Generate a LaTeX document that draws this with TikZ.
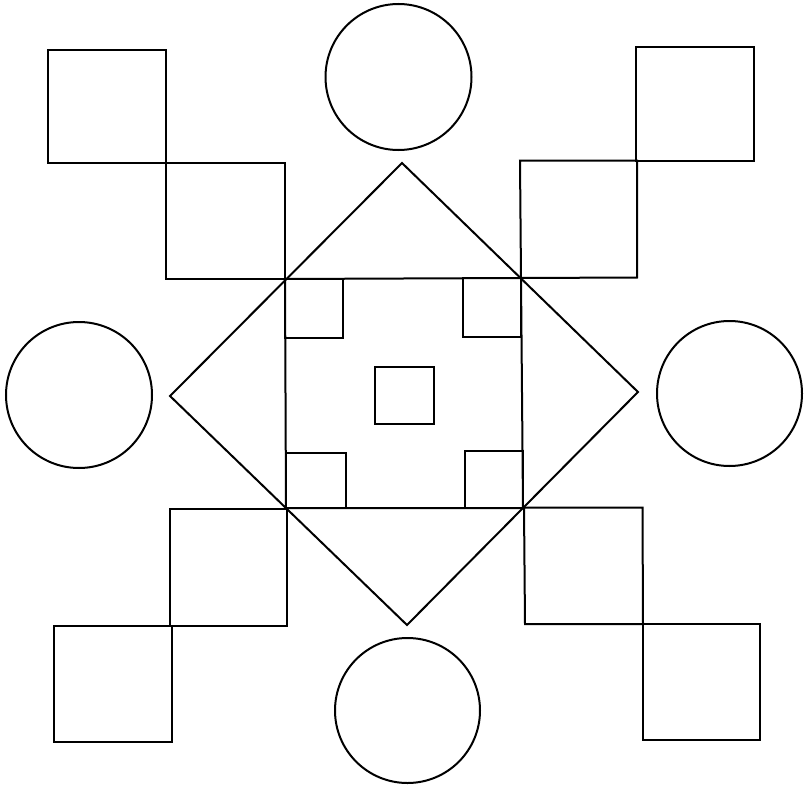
\documentclass[tikz,border=0pt]{standalone}
\begin{document}
\begin{tikzpicture}[x=1pt,y=-1pt,line width=2pt,line join=miter,
  figline/.style={draw=black}]
\useasboundingbox (0,0) rectangle (809,787);
% circles
\draw[figline] (398.5,77) circle (73);
\draw[figline] (79,395) circle (73);
\draw[figline] (729.5,393.5) circle (72.5);
\draw[figline] (407.5,710.5) circle (72.5);
% diamond
\draw[figline] (402,163) -- (638,392) -- (407,625) -- (170,396) -- cycle;
% central square
\draw[figline] (285,279) -- (521,278) -- (523,508) -- (286,508) -- cycle;
% inner small squares
\draw[figline] (285,279) rectangle (343,338);
\draw[figline] (463,278) rectangle (521,337);
\draw[figline] (286,453) rectangle (346,508);
\draw[figline] (465,451) rectangle (523,508);
\draw[figline] (375,367) rectangle (434,424);
% top-left squares
\draw[figline] (47.5,50) rectangle (165.5,163);
\draw[figline] (165.5,163) rectangle (285,279);
% top-right squares
\draw[figline] (636,47) rectangle (754,160.5);
\draw[figline] (520,160.5) -- (637,160.5) -- (637,277.5) -- (521,278) -- cycle;
% bottom-left squares
\draw[figline] (170,509) -- (287,509) -- (287,626) -- (170,626) -- cycle;
\draw[figline] (54,626) rectangle (171.5,742);
% bottom-right squares
\draw[figline] (524,507.5) -- (642.5,507.5) -- (643,624) -- (525,624) -- cycle;
\draw[figline] (643,624) rectangle (759.5,740);
\end{tikzpicture}
\end{document}
